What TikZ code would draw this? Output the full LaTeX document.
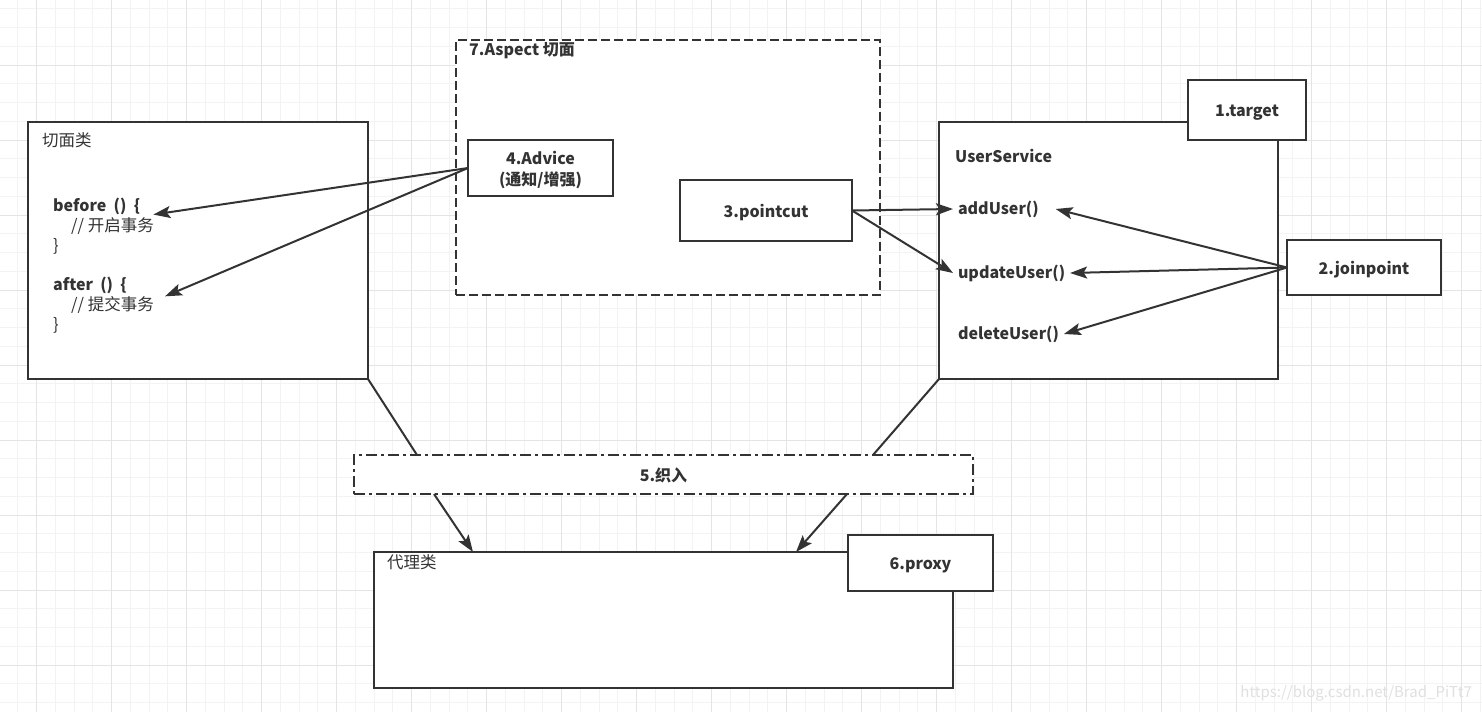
\documentclass[tikz,border=0pt]{standalone}
\usepackage{fontspec}
\setmainfont{Noto Sans CJK SC}
\usetikzlibrary{arrows.meta}
\definecolor{ink}{HTML}{333333}
\definecolor{gridlo}{HTML}{F3F3F3}
\definecolor{gridhi}{HTML}{E4E4E4}
\tikzset{box/.style = {draw = ink, fill = white, line width = 2pt, inner sep = 0, outer sep = 0, anchor = north west}}
\tikzset{tagbox/.style = {box, anchor = center, text = ink, align = center, text height = 14pt, text depth = 1pt, font = \bfseries\fontsize{16}{21}\selectfont}}
\tikzset{txt/.style = {anchor = west, inner sep = 0, text = ink, font = \bfseries\fontsize{16}{20}\selectfont}}
\tikzset{note/.style = {txt, font = \fontsize{16.5}{20}\selectfont}}
\tikzset{meth/.style = {txt, outer sep = 5pt}}
\tikzset{arr/.style = {draw = ink, line width = 2pt, -{Stealth[length = 17pt, width = 12pt, inset = 3.5pt]}}}
\tikzset{link/.style = {draw = ink, line width = 2pt}}

\begin{document}
\begin{tikzpicture}[x = 1pt, y = -1pt]
      \useasboundingbox (0, 0) rectangle (1482, 712);
      \fill [white] (0, 0) rectangle (1482, 712);
      % grid
      \foreach \i in {0,...,78} \draw [gridlo, line width = 1pt] ({17.95 + 18.75*\i}, 0) -- ({17.95 + 18.75*\i}, 712);
      \foreach \j in {0,...,37} \draw [gridlo, line width = 1pt] (0, {8.75 + 18.75*\j}) -- (1482, {8.75 + 18.75*\j});
      \foreach \i in {0,...,19} \draw [gridhi, line width = 1pt] ({36.7 + 75*\i}, 0) -- ({36.7 + 75*\i}, 712);
      \foreach \j in {0,...,8} \draw [gridhi, line width = 1pt] (0, {65 + 75*\j}) -- (1482, {65 + 75*\j});

      % aspect class
      \node [box, minimum width = 340pt, minimum height = 257pt] (cls) at (28, 122) {};
      \node [note] (clsname) at (42, 140) {切面类};
      \node [txt] (before) at (53, 206) {before\ \ ()\ \ \{};
      \node [note] (open) at (71, 226) {// 开启事务};
      \node [note] (bclose) at (53, 246) {\}};
      \node [txt] (after) at (53, 285) {after\ \ ()\ \ \{};
      \node [note] (commit) at (71, 305) {// 提交事务};
      \node [note] (aclose) at (53, 325) {\}};

      % aspect
      \node [box, dash pattern = on 9pt off 4pt, minimum width = 424pt, minimum height = 255pt] (aspect) at (456, 40) {};
      \node [txt] (aspectname) at (469, 51) {7.Aspect 切面};
      \node [tagbox, text height = 36pt, minimum width = 145pt, minimum height = 56pt] (advice) at (540.5, 168) {4.Advice\\(通知/增强)};
      \node [tagbox, minimum width = 172pt, minimum height = 61pt] (pointcut) at (766, 210.5) {3.pointcut};

      % target
      \node [box, minimum width = 339pt, minimum height = 257pt] (svc) at (939, 122) {};
      \node [tagbox, minimum width = 118pt, minimum height = 60pt] (target) at (1247, 110) {1.target};
      \node [txt] (svcname) at (955, 156) {UserService};
      \node [meth] (adduser) at (953, 209) {addUser()};
      \node [meth] (upduser) at (953, 273) {updateUser()};
      \node [meth] (deluser) at (953, 334) {deleteUser()};
      \node [tagbox, minimum width = 154pt, minimum height = 55pt] (joinpoint) at (1364, 267.5) {2.joinpoint};

      % weaving and proxy
      \node [tagbox, dash pattern = on 11pt off 4pt on 3pt off 4pt, minimum width = 619pt, minimum height = 39pt] (weave) at (663.5, 474.5) {5.织入};
      \node [box, minimum width = 579pt, minimum height = 136pt] (proxy) at (374, 552) {};
      \node [note] (proxyname) at (387, 562) {代理类};
      \node [tagbox, minimum width = 145pt, minimum height = 56pt] (proxytag) at (920.5, 563) {6.proxy};

      \draw [arr] (advice.west) -- ([xshift = 13pt]before.south east);
      \draw [arr] (advice.west) -- ([xshift = 11pt]commit.north east);
      \draw [arr] (pointcut.east) -- (adduser.west);
      \draw [arr] (pointcut.east) -- (upduser.west);
      \draw [arr] (joinpoint.west) -- ([xshift = 12pt]adduser.east);
      \draw [arr] (joinpoint.west) -- (upduser.east);
      \draw [arr] (joinpoint.west) -- (deluser.east);

      \draw [link] (cls.south east) -- ([xshift = 63pt]weave.north west);
      \draw [link] (svc.south west) -- ([xshift = -100pt]weave.north east);
      \draw [arr] ([xshift = 80pt]weave.south west) -- ([xshift = 99pt]proxy.north west);
      \draw [arr] ([xshift = -126pt]weave.south east) -- ([xshift = -157pt]proxy.north east);

      \node [anchor = east, inner sep = 0, text = black!12, font = \fontsize{15}{18}\selectfont] (mark) at (1472, 693) {https://blog.csdn.net/Brad\_PiTt7};
\end{tikzpicture}
\end{document}
